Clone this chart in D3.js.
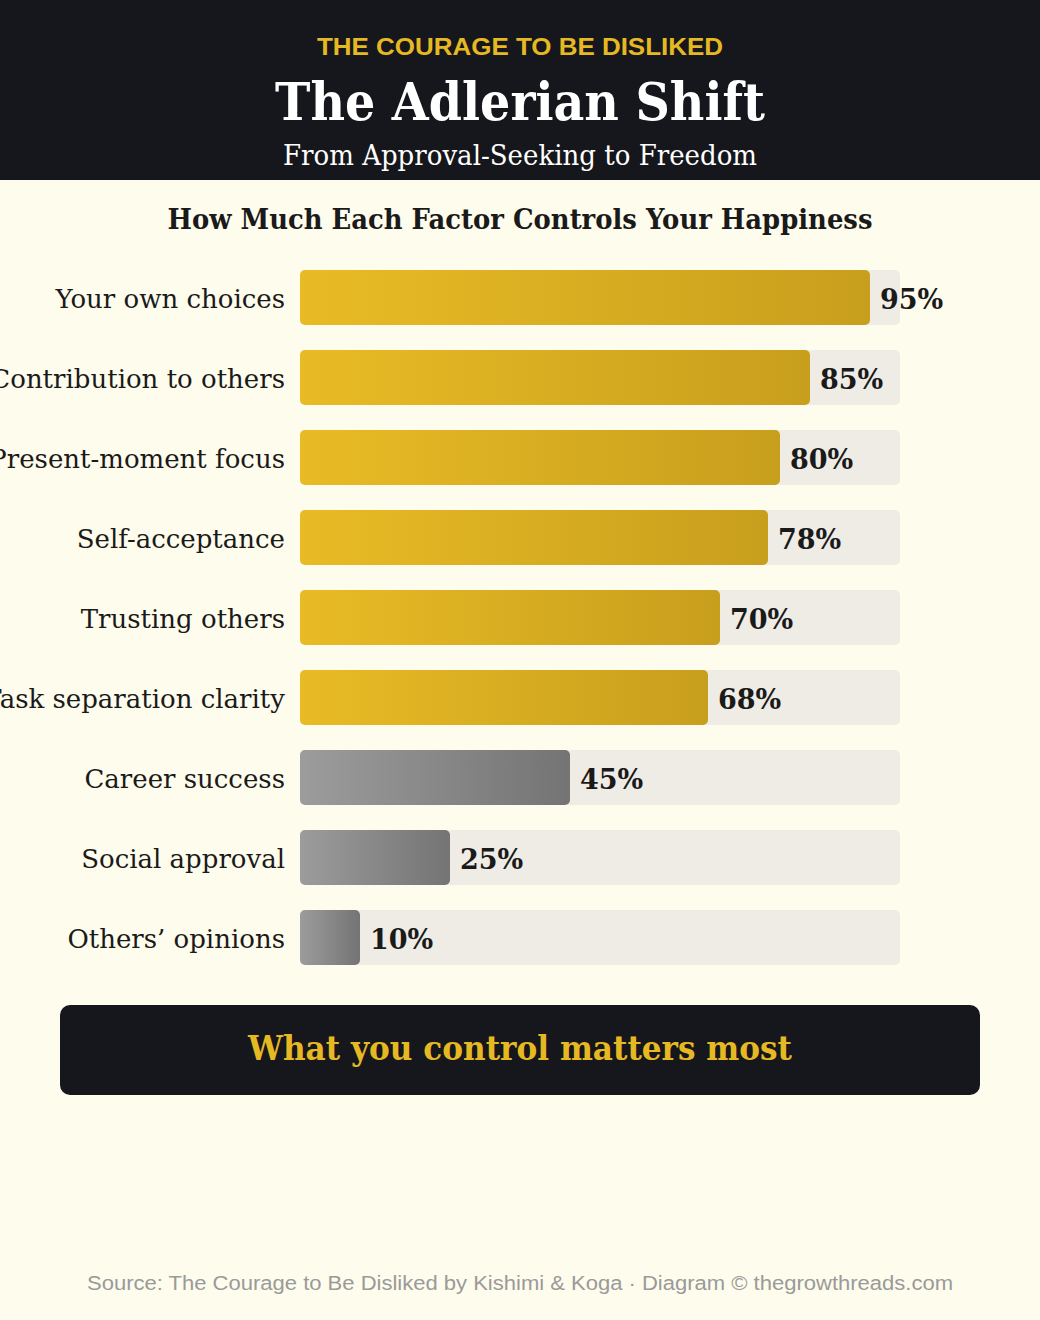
<!DOCTYPE html>
<html><head><meta charset="utf-8">
<script src="https://cdn.jsdelivr.net/npm/d3@7"></script>
<style>html,body{margin:0;padding:0;background:#fefcec;}svg{display:block;}</style>
</head><body>
<script>
const categories = ["Your own choices","Contribution to others","Present-moment focus","Self-acceptance","Trusting others","Task separation clarity","Career success","Social approval","Others\u2019 opinions"];
const values = [95,85,80,78,70,68,45,25,10];
const groups = ["gold","gold","gold","gold","gold","gold","gray","gray","gray"];
const kicker = "THE COURAGE TO BE DISLIKED";
const title = "The Adlerian Shift";
const subtitle = "From Approval-Seeking to Freedom";
const chartTitle = "How Much Each Factor Controls Your Happiness";
const callout = "What you control matters most";
const footer = "Source: The Courage to Be Disliked by Kishimi & Koga \u00b7 Diagram \u00a9 thegrowthreads.com";

const W = 1040, H = 1320;
const serif = "'DejaVu Serif', 'Liberation Serif', Georgia, serif";
const sans = "'Liberation Sans', Arial, Helvetica, sans-serif";
const svg = d3.select("body").append("svg").attr("width", W).attr("height", H);
svg.append("rect").attr("width", W).attr("height", H).attr("fill", "#fefcec");

const defs = svg.append("defs");
const grads = {gold:["#e8bb25","#c89f1d"], gray:["#9c9c9c","#747474"]};
Object.entries(grads).forEach(([k,c]) => {
  const g = defs.append("linearGradient").attr("id","g-"+k).attr("x1","0%").attr("x2","100%").attr("y1","0%").attr("y2","0%");
  g.append("stop").attr("offset","0%").attr("stop-color",c[0]);
  g.append("stop").attr("offset","100%").attr("stop-color",c[1]);
});

function fit(sel, w){ sel.attr("textLength", w).attr("lengthAdjust","spacingAndGlyphs"); return sel; }

// header
svg.append("rect").attr("width", W).attr("height", 180).attr("fill", "#16171c");
fit(svg.append("text").attr("x", 520).attr("y", 55).attr("text-anchor","middle")
  .attr("font-family", sans).attr("font-weight","bold").attr("font-size",24).attr("fill","#e6b923").text(kicker), 406);
fit(svg.append("text").attr("x", 520).attr("y", 120).attr("text-anchor","middle")
  .attr("font-family", serif).attr("font-weight","bold").attr("font-size",52).attr("fill","#ffffff").text(title), 490);
fit(svg.append("text").attr("x", 520).attr("y", 165).attr("text-anchor","middle")
  .attr("font-family", serif).attr("font-size",28).attr("fill","#ffffff").text(subtitle), 474);

fit(svg.append("text").attr("x", 520).attr("y", 229).attr("text-anchor","middle")
  .attr("font-family", serif).attr("font-weight","bold").attr("font-size",27).attr("fill","#1a1a1a").text(chartTitle), 705);

const x = d3.scaleLinear().domain([0,100]).range([300,900]);
const y = d3.scaleBand().domain(categories).range([270, 965]).paddingInner(25/80).paddingOuter(0);

const rows = svg.append("g").selectAll("g").data(categories.map((c,i)=>({c, v:values[i], g:groups[i]}))).join("g");
rows.append("rect").attr("x", x(0)).attr("y", d=>y(d.c)).attr("width", x(100)-x(0)).attr("height", y.bandwidth())
  .attr("rx",5).attr("fill","#efece5");
rows.append("rect").attr("x", x(0)).attr("y", d=>y(d.c)).attr("width", d=>x(d.v)-x(0)).attr("height", y.bandwidth())
  .attr("rx",5).attr("fill", d=>"url(#g-"+d.g+")");
rows.append("text").attr("x", x(0)-15).attr("y", d=>y(d.c)+y.bandwidth()/2+10).attr("text-anchor","end")
  .attr("font-family", serif).attr("font-size",26).attr("fill","#1a1a1a").text(d=>d.c);
rows.append("text").attr("x", d=>x(d.v)+10).attr("y", d=>y(d.c)+y.bandwidth()/2+11)
  .attr("font-family", serif).attr("font-weight","bold").attr("font-size",27).attr("fill","#1a1a1a").text(d=>d.v+"%");

// callout
svg.append("rect").attr("x",60).attr("y",1005).attr("width",920).attr("height",90).attr("rx",10).attr("fill","#16171c");
fit(svg.append("text").attr("x",520).attr("y",1060).attr("text-anchor","middle")
  .attr("font-family", serif).attr("font-weight","bold").attr("font-size",34).attr("fill","#e6b923").text(callout), 544);

fit(svg.append("text").attr("x",520).attr("y",1290).attr("text-anchor","middle")
  .attr("font-family", sans).attr("font-size",20).attr("fill","#9a9a9a").text(footer), 866);
</script>
</body></html>
